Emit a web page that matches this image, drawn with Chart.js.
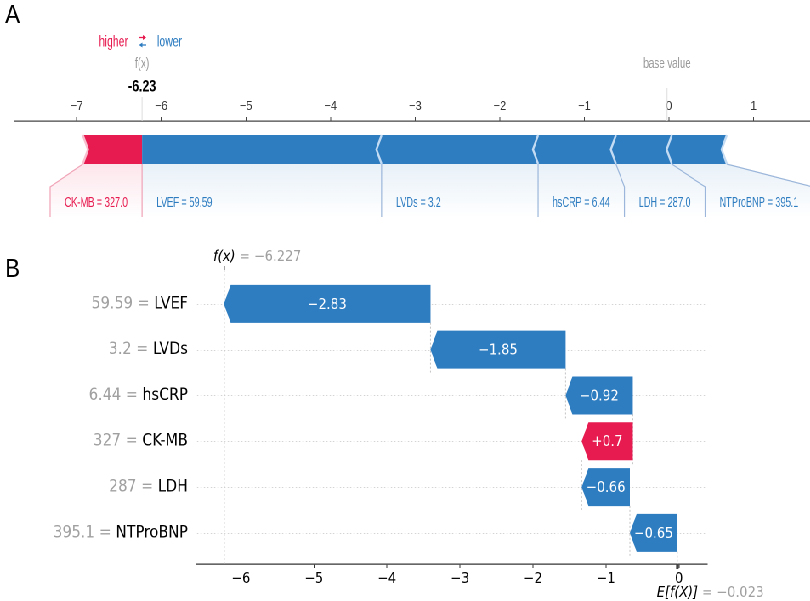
<!DOCTYPE html>
<html>
<head>
<meta charset="utf-8">
<title>SHAP force and waterfall plot</title>
<script src="https://cdn.jsdelivr.net/npm/chart.js@4.4.1/dist/chart.umd.min.js"></script>
<style>
  html, body { margin: 0; padding: 0; background: #fff; width: 810px; height: 601px; overflow: hidden; }
  /* the figure is a bit squeezed sideways, so draw it wider and scale it down */
  #wrap { position: absolute; left: 0; top: 0; width: 953px; height: 601px; transform: scaleX(0.85); transform-origin: 0 0; }
  #forceChart { position: absolute; left: 0; top: 0; }
  #waterfallChart { position: absolute; left: 0; top: 228px; }
</style>
</head>
<body>
<div id="wrap">
  <canvas id="forceChart" width="953" height="228"></canvas>
  <canvas id="waterfallChart" width="953" height="373"></canvas>
</div>
<script>
// features, top to bottom as in panel B
const features = ['LVEF', 'LVDs', 'hsCRP', 'CK-MB', 'LDH', 'NTProBNP'];
const featureValues = ['59.59', '3.2', '6.44', '327', '287', '395.1'];
const forceValueLabels = ['59.59', '3.2', '6.44', '327.0', '287.0', '395.1'];
const shapValues = [-2.83, -1.85, -0.92, 0.70, -0.66, -0.65];
const baseValue = -0.023;
const outputValue = -6.227;
const forceTicks = [-7, -6, -5, -4, -3, -2, -1, 0, 1];
const waterfallTicks = [-6, -5, -4, -3, -2, -1, 0];

const blue = '#2f7dc1', red = '#e71b50';
const sans = '"Liberation Sans", Arial, sans-serif';
const dejavu = '"DejaVu Sans", sans-serif';
const narrowX = 0.77; // no narrow font installed, so squeeze the force plot text by hand
const labelX = 0.72;
const minus = v => (v < 0 ? '\u2212' : '') + Math.abs(v);
const signed = v => (v > 0 ? '+' : '\u2212') + Math.abs(v);

// ---------- panel A: force plot ----------
const redIdx = [], blueIdx = [];
shapValues.forEach((v, i) => (v > 0 ? redIdx : blueIdx).push(i));
redIdx.sort((a, b) => Math.abs(shapValues[b]) - Math.abs(shapValues[a]));
blueIdx.sort((a, b) => Math.abs(shapValues[b]) - Math.abs(shapValues[a]));

const forceSegs = [];
let edge = outputValue;
redIdx.forEach((i, k) => {
  forceSegs.push({ i, k, side: 'red', range: [edge - shapValues[i], edge] });
  edge -= shapValues[i];
});
edge = outputValue;
blueIdx.forEach((i, k) => {
  forceSegs.push({ i, k, side: 'blue', range: [edge, edge - shapValues[i]] });
  edge -= shapValues[i];
});

function narrowText(ctx, text, x, y, align, sx) {
  const w = ctx.measureText(text).width * sx;
  const left = align === 'left' ? x : align === 'right' ? x - w : x - w / 2;
  ctx.save();
  ctx.translate(left, y);
  ctx.scale(sx, 1);
  ctx.textAlign = 'left';
  ctx.fillText(text, 0, 0);
  ctx.restore();
}

function smallArrow(ctx, x1, x2, y, color) {
  const dir = Math.sign(x2 - x1);
  ctx.strokeStyle = color; ctx.fillStyle = color; ctx.lineWidth = 1.3;
  ctx.beginPath(); ctx.moveTo(x1, y); ctx.lineTo(x2 - dir * 2, y); ctx.stroke();
  ctx.beginPath(); ctx.moveTo(x2, y); ctx.lineTo(x2 - dir * 4, y - 2.5); ctx.lineTo(x2 - dir * 4, y + 2.5); ctx.closePath(); ctx.fill();
}

const forcePlugin = {
  id: 'forceShapes',
  afterDraw(chart) {
    const ctx = chart.ctx, xs = chart.scales.x;
    const notch = 6, slant = 23, bottomY = 217, pad = 17, textY = 203;
    const boxes = forceSegs.map((s, n) => {
      const el = chart.getDatasetMeta(n).data[0];
      return { s, L: Math.min(el.x, el.base), R: Math.max(el.x, el.base),
        T: el.y - el.height / 2, B: el.y + el.height / 2, M: el.y };
    });
    ctx.save();

    // label boxes below the bar
    ctx.font = '15px ' + sans;
    let prevBlue = null, prevRed = null;
    boxes.forEach(b => {
      const i = b.s.i;
      b.text = features[i] + ' = ' + forceValueLabels[i];
      const w = ctx.measureText(b.text).width * labelX;
      if (b.s.side === 'blue') {
        b.bl = prevBlue === null ? b.L : Math.max(b.L, prevBlue);
        b.br = Math.max(b.R, b.bl + w + 2 * pad);
        prevBlue = b.br;
      } else {
        b.br = prevRed === null ? b.R : Math.min(b.R, prevRed);
        b.bl = Math.min(b.L, b.br - w - 2 * pad);
        prevRed = b.bl;
      }
      b.yl = b.bl === b.L ? b.B : b.B + slant;
      b.yr = b.br === b.R ? b.B : b.B + slant;
    });
    boxes.forEach(b => {
      const rgb = b.s.side === 'blue' ? '47,125,193' : '231,27,80';
      const g = ctx.createLinearGradient(0, b.B, 0, bottomY);
      g.addColorStop(0, 'rgba(' + rgb + ',0.11)');
      g.addColorStop(1, 'rgba(' + rgb + ',0)');
      ctx.beginPath();
      ctx.moveTo(b.L, b.B); ctx.lineTo(b.R, b.B); ctx.lineTo(b.br, b.yr); ctx.lineTo(b.br, bottomY);
      ctx.lineTo(b.bl, bottomY); ctx.lineTo(b.bl, b.yl); ctx.closePath();
      ctx.fillStyle = g; ctx.fill();
    });
    ctx.lineWidth = 1.2;
    boxes.forEach(b => {
      ctx.beginPath();
      if (b.s.side === 'blue') {
        ctx.strokeStyle = '#9bb6da';
        ctx.moveTo(b.R, b.B); ctx.lineTo(b.br, b.yr); ctx.lineTo(b.br, bottomY);
      } else {
        ctx.strokeStyle = '#f0a3b7';
        ctx.moveTo(b.L, b.B); ctx.lineTo(b.bl, b.yl); ctx.lineTo(b.bl, bottomY);
        ctx.moveTo(b.R, b.B); ctx.lineTo(b.br, b.yr); ctx.lineTo(b.br, bottomY);
      }
      ctx.stroke();
    });
    ctx.textBaseline = 'middle';
    boxes.forEach(b => {
      if (b.s.side === 'blue') {
        ctx.fillStyle = blue;
        narrowText(ctx, b.text, b.bl + pad, textY, 'left', labelX);
      } else {
        ctx.fillStyle = red;
        narrowText(ctx, b.text, b.br - pad, textY, 'right', labelX);
      }
    });

    // chevron bars
    boxes.forEach(b => {
      const { L, R, T, B, M } = b, k = b.s.k;
      ctx.beginPath();
      if (b.s.side === 'blue') {
        ctx.moveTo(L, T); ctx.lineTo(R, T); ctx.lineTo(R - notch, M); ctx.lineTo(R, B); ctx.lineTo(L, B);
        if (k > 0) ctx.lineTo(L - notch, M);
      } else {
        ctx.moveTo(R, T); ctx.lineTo(L, T); ctx.lineTo(L + notch, M); ctx.lineTo(L, B); ctx.lineTo(R, B);
        if (k > 0) ctx.lineTo(R + notch, M);
      }
      ctx.closePath();
      ctx.fillStyle = b.s.side === 'blue' ? blue : red;
      ctx.fill();
    });
    ctx.lineWidth = 2.4;
    boxes.forEach(b => {
      const { L, R, T, B, M } = b;
      ctx.beginPath();
      if (b.s.side === 'blue') {
        ctx.strokeStyle = '#c3dbf3';
        ctx.moveTo(R, T); ctx.lineTo(R - notch, M); ctx.lineTo(R, B);
      } else {
        ctx.strokeStyle = '#f8bfcf';
        ctx.moveTo(L, T); ctx.lineTo(L + notch, M); ctx.lineTo(L, B);
      }
      ctx.stroke();
    });

    // texts above the axis
    const fxPx = xs.getPixelForValue(outputValue);
    const basePx = xs.getPixelForValue(baseValue);
    ctx.strokeStyle = '#dddddd'; ctx.lineWidth = 1;
    ctx.beginPath(); ctx.moveTo(fxPx, 97); ctx.lineTo(fxPx, chart.chartArea.top); ctx.stroke();
    ctx.beginPath(); ctx.moveTo(basePx, 88); ctx.lineTo(basePx, chart.chartArea.top); ctx.stroke();

    ctx.textBaseline = 'middle';
    ctx.font = '16px ' + sans;
    ctx.fillStyle = red; narrowText(ctx, 'higher', 150.6, 42, 'right', narrowX);
    ctx.fillStyle = blue; narrowText(ctx, 'lower', 184.7, 42, 'left', narrowX);
    smallArrow(ctx, 163.5, 172, 37.5, red);
    smallArrow(ctx, 172, 163.5, 45, blue);

    ctx.font = '15px ' + sans;
    ctx.fillStyle = '#9a9a9a';
    narrowText(ctx, 'f(x)', fxPx, 64, 'center', narrowX);
    narrowText(ctx, 'base value', basePx, 64, 'center', narrowX);
    ctx.font = 'bold 17px ' + sans;
    ctx.fillStyle = '#000';
    narrowText(ctx, outputValue.toFixed(2), fxPx, 87, 'center', 0.85);

    ctx.font = '26px ' + sans;
    ctx.textAlign = 'left'; ctx.textBaseline = 'alphabetic';
    ctx.fillText('A', 6, 23);
    ctx.restore();
  }
};

new Chart(document.getElementById('forceChart'), {
  type: 'bar',
  data: {
    labels: ['f(x)'],
    datasets: forceSegs.map(s => ({
      label: features[s.i],
      data: [s.range],
      backgroundColor: 'rgba(0,0,0,0)',
      borderWidth: 0,
      grouped: false,
      barThickness: 29
    }))
  },
  options: {
    indexAxis: 'y',
    responsive: false,
    animation: false,
    devicePixelRatio: 2,
    layout: { padding: { left: 16.5, right: 0, top: 81, bottom: 50 } },
    plugins: { legend: { display: false }, tooltip: { enabled: false } },
    scales: {
      x: {
        type: 'linear',
        position: 'top',
        min: -7.74,
        max: 1.667,
        afterBuildTicks: s => { s.ticks = forceTicks.map(v => ({ value: v })); },
        afterFit: s => { s.height = 40; },
        grid: { drawOnChartArea: false, drawTicks: true, tickLength: 4, color: '#444' },
        border: { color: '#444', width: 1.3 },
        ticks: { font: { family: sans, size: 13 }, color: '#333', padding: 3, callback: v => minus(v) }
      },
      y: { display: false }
    }
  },
  plugins: [forcePlugin]
});

// ---------- panel B: waterfall ----------
const n = features.length;
const rows = features.map((f, i) => n - 1 - i);
const waterRanges = new Array(n);
let cum = baseValue;
for (let i = n - 1; i >= 0; i--) {
  waterRanges[i] = [cum, cum + shapValues[i]];
  cum += shapValues[i];
}

const waterfallPlugin = {
  id: 'waterfallShapes',
  beforeDatasetsDraw(chart) {
    const ctx = chart.ctx, xs = chart.scales.x, ys = chart.scales.y, area = chart.chartArea;
    ctx.save();
    ctx.lineWidth = 1;
    ctx.strokeStyle = '#d4d4d4';
    ctx.setLineDash([1.5, 2.5]);
    rows.forEach(r => {
      const py = Math.round(ys.getPixelForValue(r)) + 0.5;
      ctx.beginPath(); ctx.moveTo(area.left, py); ctx.lineTo(area.right, py); ctx.stroke();
    });
    ctx.strokeStyle = '#c4c4c4';
    ctx.setLineDash([2, 2]);
    const fxPx = xs.getPixelForValue(outputValue);
    ctx.beginPath(); ctx.moveTo(fxPx, area.top); ctx.lineTo(fxPx, area.bottom); ctx.stroke();
    const basePx = xs.getPixelForValue(baseValue);
    ctx.beginPath(); ctx.moveTo(basePx, ys.getPixelForValue(rows[n - 1] - 0.41)); ctx.lineTo(basePx, area.bottom); ctx.stroke();
    for (let i = 1; i < n; i++) {
      const px = xs.getPixelForValue(waterRanges[i][1]);
      ctx.beginPath();
      ctx.moveTo(px, ys.getPixelForValue(rows[i] + 0.59));
      ctx.lineTo(px, ys.getPixelForValue(rows[i] - 0.5));
      ctx.stroke();
    }
    ctx.restore();
  },
  afterDatasetsDraw(chart) {
    const ctx = chart.ctx;
    const meta = chart.getDatasetMeta(0);
    ctx.save();
    meta.data.forEach((el, i) => {
      const xEnd = el.x, xStart = el.base;
      const T = el.y - el.height / 2, B = el.y + el.height / 2, M = el.y;
      const dir = Math.sign(xEnd - xStart);
      const hl = Math.min(8, Math.abs(xEnd - xStart));
      ctx.beginPath();
      ctx.moveTo(xEnd, M);
      ctx.lineTo(xEnd - dir * hl, T);
      ctx.lineTo(xStart, T);
      ctx.lineTo(xStart, B);
      ctx.lineTo(xEnd - dir * hl, B);
      ctx.closePath();
      ctx.fillStyle = shapValues[i] > 0 ? red : blue;
      ctx.fill();
      ctx.font = '15px ' + dejavu;
      ctx.fillStyle = '#fff';
      ctx.textAlign = 'center';
      ctx.textBaseline = 'middle';
      ctx.fillText(signed(shapValues[i]), (xStart + xEnd) / 2, M + 1);
    });
    ctx.restore();
  },
  afterDraw(chart) {
    const ctx = chart.ctx, xs = chart.scales.x, ys = chart.scales.y, area = chart.chartArea;
    ctx.save();
    ctx.textBaseline = 'middle';
    ctx.font = '17px ' + dejavu;
    rows.forEach((r, i) => {
      const py = ys.getPixelForValue(r);
      const nameW = ctx.measureText(features[i]).width;
      ctx.textAlign = 'right';
      ctx.fillStyle = '#000';
      ctx.fillText(features[i], 221, py);
      ctx.fillStyle = '#a0a0a0';
      ctx.fillText(featureValues[i] + ' = ', 221 - nameW, py);
    });

    const fxPx = xs.getPixelForValue(outputValue);
    const basePx = xs.getPixelForValue(baseValue);
    ctx.strokeStyle = '#333'; ctx.lineWidth = 1.2;
    ctx.beginPath(); ctx.moveTo(fxPx, area.top - 4); ctx.lineTo(fxPx, area.top); ctx.stroke();
    ctx.fillStyle = '#444';
    ctx.fillRect(basePx - 1.5, area.bottom, 3, 5);

    ctx.font = 'italic 15px ' + dejavu;
    let w = ctx.measureText('f(x)').width;
    ctx.textAlign = 'left';
    ctx.fillStyle = '#000';
    ctx.fillText('f(x)', fxPx - w / 2, 29);
    ctx.font = '15px ' + dejavu;
    ctx.fillStyle = '#a0a0a0';
    ctx.fillText(' = ' + minus(outputValue), fxPx + w / 2, 29);

    ctx.font = 'italic 15px ' + dejavu;
    w = ctx.measureText('E[f(X)]').width;
    ctx.fillStyle = '#000';
    ctx.fillText('E[f(X)]', basePx - w / 2, 365);
    ctx.font = '15px ' + dejavu;
    ctx.fillStyle = '#a0a0a0';
    ctx.fillText(' = ' + minus(baseValue), basePx + w / 2, 365);

    ctx.font = '26px ' + sans;
    ctx.fillStyle = '#000';
    ctx.textBaseline = 'alphabetic';
    ctx.fillText('B', 6, 49);
    ctx.restore();
  }
};

new Chart(document.getElementById('waterfallChart'), {
  type: 'bar',
  data: {
    datasets: [{
      label: 'SHAP value',
      data: features.map((f, i) => ({ x: waterRanges[i], y: rows[i] })),
      backgroundColor: 'rgba(0,0,0,0)',
      borderWidth: 0,
      barThickness: 38
    }]
  },
  options: {
    indexAxis: 'y',
    responsive: false,
    animation: false,
    devicePixelRatio: 2,
    layout: { padding: { left: 231.8, right: 121.2, top: 42, bottom: 7 } },
    plugins: { legend: { display: false }, tooltip: { enabled: false } },
    scales: {
      x: {
        type: 'linear',
        position: 'bottom',
        min: -6.6,
        max: 0.384,
        afterBuildTicks: s => { s.ticks = waterfallTicks.map(v => ({ value: v })); },
        afterFit: s => { s.height = 30; },
        grid: { drawOnChartArea: false, drawTicks: true, tickLength: 4, color: '#333' },
        border: { color: '#333', width: 1.2 },
        ticks: { font: { family: dejavu, size: 15 }, color: '#000', padding: 2, callback: v => minus(v) }
      },
      y: { type: 'linear', min: -0.68, max: 5.74, offset: false, display: false }
    }
  },
  plugins: [waterfallPlugin]
});
</script>
</body>
</html>
